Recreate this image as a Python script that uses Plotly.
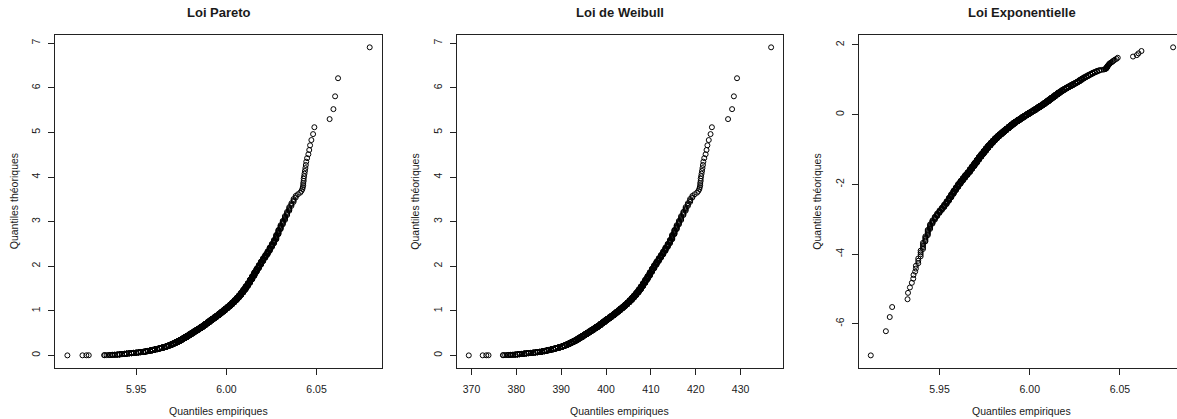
import numpy as np
import plotly.graph_objects as go

# ---- sample (sorted observations) ----
# smallest observations
low_tail = [369.4, 372.5, 373.3, 373.8, 377.0, 377.1, 377.5, 377.9, 378.2, 378.6]

# body of the sample as a frequency table (half-unit classes)
body_values = [
    378.25, 378.75, 379.25, 379.75, 380.25, 380.75, 381.25, 381.75, 382.25, 382.75,
    383.25, 383.75, 384.25, 384.75, 385.25, 385.75, 386.25, 386.75, 387.25, 387.75,
    388.25, 388.75, 389.25, 389.75, 390.25, 390.75, 391.25, 391.75, 392.25, 392.75,
    393.25, 393.75, 394.25, 394.75, 395.25, 395.75, 396.25, 396.75, 397.25, 397.75,
    398.25, 398.75, 399.25, 399.75, 400.25, 400.75, 401.25, 401.75, 402.25, 402.75,
    403.25, 403.75, 404.25, 404.75, 405.25, 405.75, 406.25, 406.75, 407.25, 407.75,
    408.25, 408.75, 409.25, 409.75, 410.25, 410.75, 411.25, 411.75, 412.25, 412.75,
    413.25, 413.75, 414.25, 414.75, 415.25, 415.75, 416.25, 416.75, 417.25, 417.75,
    418.25, 418.75, 419.25, 419.75,
]
body_counts = [
    1, 2, 3, 4, 5, 5, 6, 6, 5, 5,
    5, 5, 5, 6, 7, 8, 9, 10, 10, 11,
    11, 11, 12, 12, 15, 15, 17, 18, 19, 19,
    20, 21, 20, 21, 20, 20, 19, 18, 18, 18,
    18, 19, 18, 18, 16, 16, 15, 16, 15, 15,
    15, 14, 14, 15, 15, 15, 15, 15, 16, 16,
    15, 15, 14, 14, 12, 11, 10, 9, 8, 8,
    8, 7, 7, 8, 7, 6, 5, 5, 4, 4,
    3, 3, 2, 1,
]

# largest observations
high_tail = [420.3, 420.6, 420.8, 420.9, 421.0, 421.0, 421.1, 421.1, 421.2, 421.3,
             421.4, 421.5, 421.6, 421.7, 421.9, 422.2, 422.4, 422.6, 422.9, 423.3,
             423.6, 427.2, 428.1, 428.5, 429.2, 436.8]

sample = np.sort(np.concatenate([
    np.array(low_tail),
    np.repeat(np.array(body_values), np.array(body_counts)),
    np.array(high_tail),
]))

# theoretical quantiles
n = len(sample)
p = np.arange(1, n + 1) / (n + 1)
q_exp = -np.log(1 - p)
q_loglog = np.log(q_exp)

W, H = 1177, 419
TOP, BOTTOM = 35.0, 367.7
PANEL_W = 326.5
FONT = "Liberation Sans, Arial, sans-serif"
TXT = "#1a1a1a"


def padded(v):
    lo, hi = float(np.min(v)), float(np.max(v))
    d = 0.04 * (hi - lo)
    return lo - d, hi + d


panels = [
    dict(title="Loi Pareto", x=np.log(sample), y=q_exp, left=55.3,
         xt=[5.95, 6.00, 6.05], xl=["5.95", "6.00", "6.05"],
         yt=list(range(8)), yl=[str(v) for v in range(8)]),
    dict(title="Loi de Weibull", x=sample, y=q_exp, left=456.7,
         xt=[370, 380, 390, 400, 410, 420, 430],
         xl=["370", "380", "390", "400", "410", "420", "430"],
         yt=list(range(8)), yl=[str(v) for v in range(8)]),
    dict(title="Loi Exponentielle", x=np.log(sample), y=q_loglog, left=858.7,
         xt=[5.95, 6.00, 6.05], xl=["5.95", "6.00", "6.05"],
         yt=[-6, -4, -2, 0, 2], yl=["-6", "-4", "-2", "0", "2"]),
]

fig = go.Figure()
annotations = []
for k, pn in enumerate(panels, start=1):
    xa = "x" if k == 1 else f"x{k}"
    ya = "y" if k == 1 else f"y{k}"
    fig.add_trace(go.Scatter(
        x=pn["x"], y=pn["y"], mode="markers", xaxis=xa, yaxis=ya,
        marker=dict(symbol="circle-open", size=5, color="black",
                    line=dict(width=1, color="black")),
        showlegend=False, hoverinfo="skip",
    ))
    left = pn["left"]
    right = left + PANEL_W
    xlo, xhi = padded(pn["x"])
    if right > W:
        frac = (W - left) / PANEL_W
        xhi = xlo + (xhi - xlo) * frac
        dom_r = 1.0
    else:
        dom_r = right / W
    ylo, yhi = padded(pn["y"])
    axis_common = dict(
        showline=True, mirror=True, linecolor="#222", linewidth=1,
        ticks="outside", ticklen=6, tickcolor="#222", tickwidth=1,
        showgrid=False, zeroline=False,
        tickfont=dict(family=FONT, size=10.5, color=TXT),
    )
    fig.layout[f"xaxis{'' if k == 1 else k}"] = dict(
        axis_common, domain=[left / W, dom_r], range=[xlo, xhi],
        tickvals=pn["xt"], ticktext=pn["xl"], anchor=ya,
        ticklabelstandoff=6,
    )
    fig.layout[f"yaxis{'' if k == 1 else k}"] = dict(
        axis_common, domain=[1 - BOTTOM / H, 1 - TOP / H], range=[ylo, yhi],
        tickvals=pn["yt"], ticktext=pn["yl"], anchor=xa, tickangle=-90,
        ticklabelstandoff=4,
    )
    cx = (left + right) / 2
    annotations.append(dict(
        text=f"<b>{pn['title']}</b>", x=cx / W, y=1 - 12 / H,
        xref="paper", yref="paper", xanchor="center", yanchor="middle",
        showarrow=False, font=dict(family=FONT, size=13, color=TXT),
    ))
    annotations.append(dict(
        text="Quantiles empiriques", x=cx / W, y=1 - 410.5 / H,
        xref="paper", yref="paper", xanchor="center", yanchor="middle",
        showarrow=False, font=dict(family=FONT, size=10.5, color=TXT),
    ))
    annotations.append(dict(
        text="Quantiles théoriques", x=(left - 41.4) / W,
        y=1 - ((TOP + BOTTOM) / 2) / H,
        xref="paper", yref="paper", xanchor="center", yanchor="middle",
        textangle=-90, showarrow=False,
        font=dict(family=FONT, size=10.5, color=TXT),
    ))

fig.update_layout(
    width=W, height=H,
    margin=dict(l=0, r=0, t=0, b=0),
    paper_bgcolor="white", plot_bgcolor="white",
    annotations=annotations,
)

fig.write_html("out.html")
